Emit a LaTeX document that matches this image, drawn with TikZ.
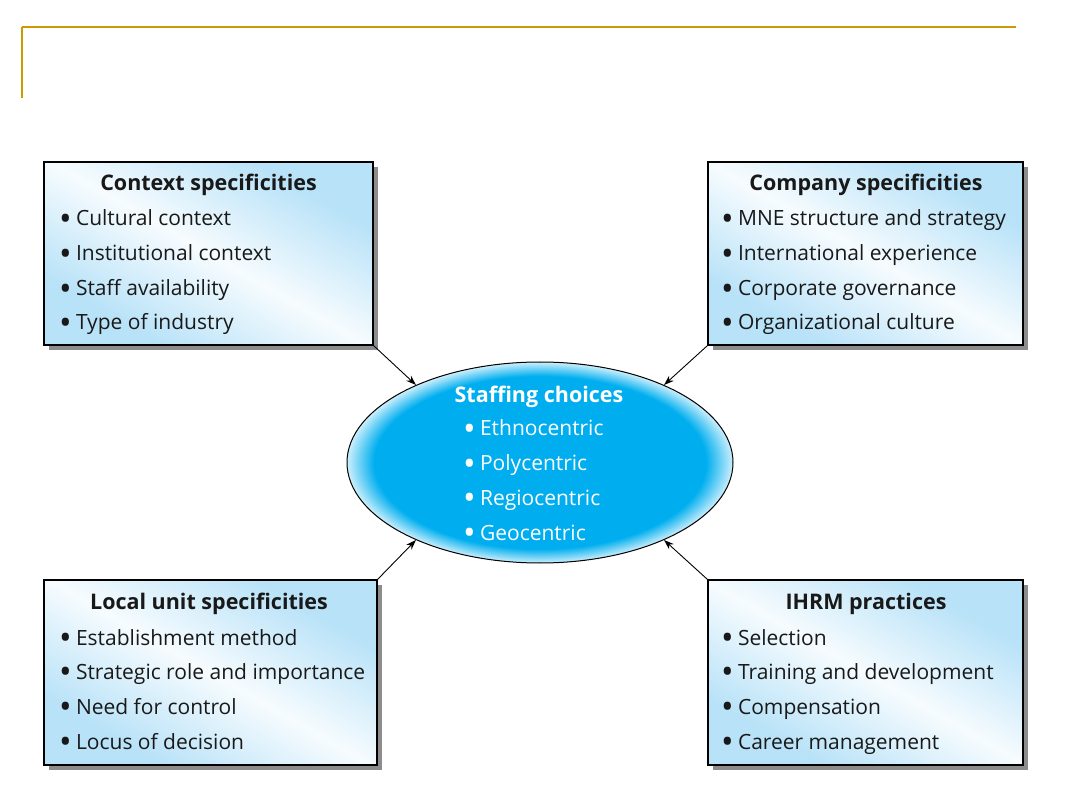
\documentclass[tikz,border=0pt]{standalone}
\usepackage{fontspec}
\setmainfont{Open Sans}
\usetikzlibrary{shapes.geometric,arrows.meta,shadows}
\definecolor{gold}{HTML}{CC9900}
\definecolor{lb}{HTML}{B8E2F8}
\definecolor{cyanfill}{HTML}{00AEEF}
\newcommand{\bul}{\raisebox{-0.2em}{\scalebox{1.6}{•}}\hspace{0.2em}}
\pgfdeclarehorizontalshading{boxsh}{100bp}{color(0bp)=(lb); color(28bp)=(lb); color(50bp)=(lb!12!white); color(72bp)=(lb); color(100bp)=(lb)}
\pgfdeclareradialshading{ellsh}{\pgfpoint{0bp}{0bp}}{color(0bp)=(cyanfill); color(21.5bp)=(cyanfill); color(25bp)=(cyanfill!20!white); color(50bp)=(white)}
\tikzset{
  box/.style={draw=black, line width=1.6pt, shading=boxsh, shading angle=60, inner sep=0pt,
    drop shadow={shadow xshift=5pt, shadow yshift=-5pt, fill=black!45, opacity=1}},
  head/.style={font=\fontsize{21.5}{24}\selectfont\bfseries, inner sep=0pt, anchor=base, text=black!90},
  item/.style={font=\fontsize{21}{24}\selectfont, inner sep=0pt, anchor=base west, text=black!90},
  whead/.style={head, text=white},
  witem/.style={item, text=white},
  arr/.style={line width=0.9pt, -{Stealth[length=10pt,width=7pt]}},
  goldline/.style={draw=gold}
}
\begin{document}
\begin{tikzpicture}[x=1pt,y=-1pt]
\useasboundingbox (0,0) rectangle (1080,810);
% title frame lines
\coordinate (g1) at (22,27);
\coordinate (g2) at (1016,27);
\coordinate (g3) at (22,98);
\draw[goldline, line width=2.4pt] (21.5,27) -- (g2);
\draw[goldline, line width=1.2pt] (g1) -- (g3);

% boxes
\node[box, minimum width=329pt, minimum height=183pt] (ctx) at (208.5,253.5) {};
\node[box, minimum width=315pt, minimum height=183pt] (cmp) at (865.5,253.5) {};
\node[box, minimum width=333pt, minimum height=185pt] (loc) at (210.5,672.5) {};
\node[box, minimum width=315pt, minimum height=185pt] (ihrm) at (865.5,672.5) {};

% ellipse
\node[ellipse, draw=black, line width=1pt, shading=ellsh, minimum width=386pt, minimum height=201pt, inner sep=0pt] (sc) at (540,462.5) {};

% context text
\node[head] (ctxh) at (208.5,191) {Context specificities};
\node[item] (ctx1) at (59,226) {\bul Cultural context};
\node[item] (ctx2) at (59,261) {\bul Institutional context};
\node[item] (ctx3) at (59,296) {\bul Staff availability};
\node[item] (ctx4) at (59,330) {\bul Type of industry};

% company text
\node[head] (cmph) at (866,191) {Company specificities};
\node[item] (cmp1) at (721,226) {\bul MNE structure and strategy};
\node[item] (cmp2) at (721,261) {\bul International experience};
\node[item] (cmp3) at (721,296) {\bul Corporate governance};
\node[item] (cmp4) at (721,330) {\bul Organizational culture};

% local text
\node[head] (loch) at (209,609) {Local unit specificities};
\node[item] (loc1) at (59,645) {\bul Establishment method};
\node[item] (loc2) at (59,679) {\bul Strategic role and importance};
\node[item] (loc3) at (59,714) {\bul Need for control};
\node[item] (loc4) at (59,749) {\bul Locus of decision};

% ihrm text
\node[head] (ihrmh) at (866,609) {IHRM practices};
\node[item] (ihrm1) at (721,645) {\bul Selection};
\node[item] (ihrm2) at (721,679) {\bul Training and development};
\node[item] (ihrm3) at (721,714) {\bul Compensation};
\node[item] (ihrm4) at (721,749) {\bul Career management};

% ellipse text
\node[whead] (sch) at (539,403) {Staffing choices};
\node[witem] (sc1) at (463,436) {\bul Ethnocentric};
\node[witem] (sc2) at (463,471) {\bul Polycentric};
\node[witem] (sc3) at (463,505) {\bul Regiocentric};
\node[witem] (sc4) at (463,540) {\bul Geocentric};

% arrows
\draw[arr] (ctx.south east) -- (sc.148);
\draw[arr] (cmp.south west) -- (sc.32);
\draw[arr] (loc.north east) -- (sc.212);
\draw[arr] (ihrm.north west) -- (sc.328);
\end{tikzpicture}
\end{document}
